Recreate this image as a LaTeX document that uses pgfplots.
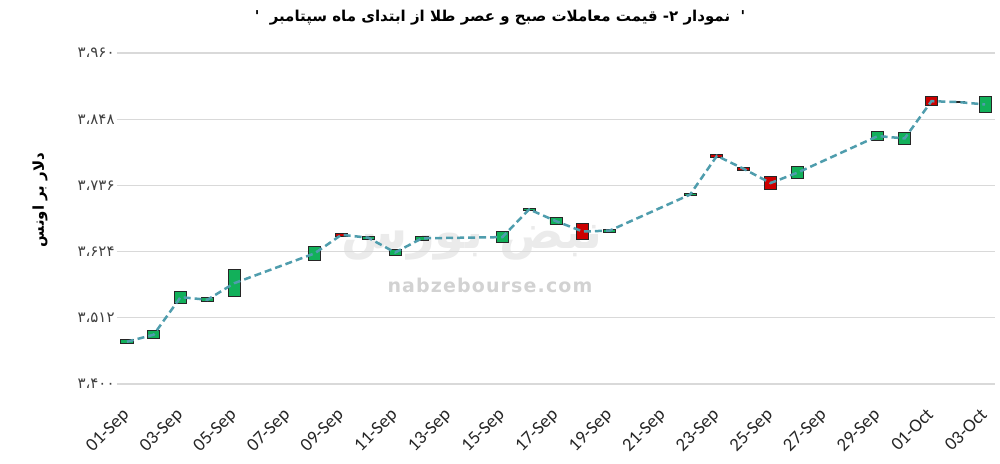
\documentclass[border=0pt]{standalone}
\usepackage{pgfplots}
\usepackage{pgfplotstable}
\pgfplotsset{compat=1.18}
\usepackage{fontspec}
\setmainfont{Carlito}
\newfontfamily\fa[Script=Arabic]{DejaVu Sans}
\newfontfamily\wm[LetterSpace=6]{DejaVu Sans}
\TeXXeTstate=1
\definecolor{grn}{HTML}{12B05A}
\definecolor{rd}{HTML}{CC0000}
\definecolor{ln}{HTML}{4F9DAD}
\definecolor{grd}{HTML}{D9D9D9}
% day index (0 = 01-Sep), low of box, rise (green height), fall (red height), mid
\pgfplotstableread{
x  lo    g   r   mid
0  3468  7   0   3471.5
1  3477  13  0   3483.5
2  3537  20  0   3547
3  3539  7   0   3542.5
4  3548  45  0   3570.5
7  3609  24  0   3621
8  3650  0   5   3652.5
9  3645  5   0   3647.5
10 3617  11  0   3622.5
11 3643  7   0   3646.5
14 3639  19  0   3648.5
15 3694  3   0   3695.5
16 3670  11  0   3675.5
17 3644  0   28  3658
18 3657  5   0   3659.5
21 3719  3   0   3720.5
22 3783  0   6   3786
23 3761  0   6   3764
24 3729  0   22  3740
25 3747  21  0   3757.5
28 3812  15  0   3819.5
29 3805  21  0   3815.5
30 3871  0   15  3878.5
31 3876  2   0   3877
32 3860  26  0   3873
}\candles
\pgfplotsset{base/.style={
  at={(58.5pt,39.5pt)}, anchor=south west,
  scale only axis, width=439pt, height=165.5pt,
  xmin=-0.37, xmax=32.37, ymin=3400, ymax=3960}}
\begin{document}
\begin{tikzpicture}
\useasboundingbox (0,0) rectangle (500pt,231.5pt);
% watermark
\node[text=gray!16, font=\fa\bfseries\fontsize{24}{26}\selectfont] at (236pt,110pt) {\beginR نبض بورس\endR};
\node[text=gray!35, font=\wm\bfseries\fontsize{9.5}{10}\selectfont] at (245pt,89pt) {nabzebourse.com};
\begin{axis}[base,
  ytick={3400,3512,3624,3736,3848,3960},
  yticklabels={۳،۴۰۰,۳،۵۱۲,۳،۶۲۴,۳،۷۳۶,۳،۸۴۸,۳،۹۶۰},
  xtick={0,2,...,32},
  xticklabels={01-Sep,03-Sep,05-Sep,07-Sep,09-Sep,11-Sep,13-Sep,15-Sep,17-Sep,19-Sep,21-Sep,23-Sep,25-Sep,27-Sep,29-Sep,01-Oct,03-Oct},
  axis line style={draw=none}, major tick length=0pt,
  ymajorgrids, grid style={grd, line width=0.6pt},
  xticklabel style={rotate=45, anchor=north east, font=\fontsize{9.3}{10}\selectfont, text=black!85, inner sep=0pt, xshift=-10pt, yshift=-6pt},
  yticklabel style={font=\fa\fontsize{7.5}{8}\selectfont, text=black!75, inner sep=1pt},
  ybar stacked, bar width=0.45,
  clip=false,
]
\addplot[draw=none, fill=none] table[x=x, y=lo]{\candles};
\addplot[draw=black!85, fill=grn, line width=0.45pt] table[x=x, y=g]{\candles};
\addplot[draw=black!85, fill=rd, line width=0.45pt] table[x=x, y=r]{\candles};
\end{axis}
\begin{axis}[base, hide axis]
\addplot[ln, line width=1.25pt, dash pattern=on 3.5pt off 2pt] table[x=x, y=mid]{\candles};
\end{axis}
\node[font=\fa\bfseries\fontsize{7.5}{9}\selectfont] at (250pt,222.5pt) {'\ \ \beginR نمودار ۲- قیمت معاملات صبح و عصر طلا از ابتدای ماه سپتامبر\endR\ \ '};
\node[rotate=90, font=\fa\bfseries\fontsize{7.5}{9}\selectfont] at (20pt,131.5pt) {\beginR دلار بر اونس\endR};
\end{tikzpicture}
\end{document}
